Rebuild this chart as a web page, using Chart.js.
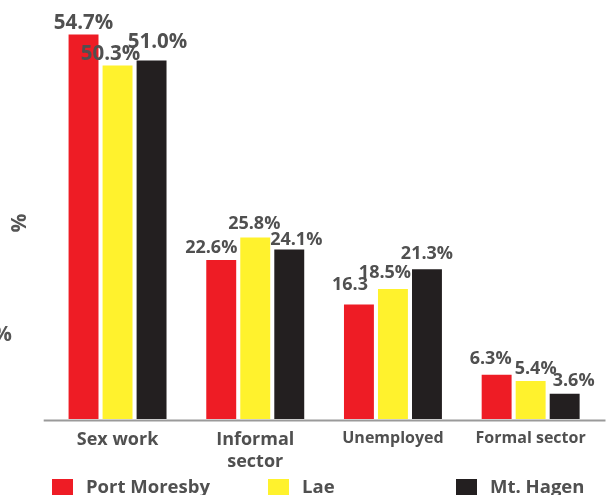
<!DOCTYPE html>
<html lang="en">
<head>
    <meta charset="UTF-8">
    <title>Occupation by town</title>
    <script src="https://cdn.jsdelivr.net/npm/chart.js"></script>
    <style>
        html, body { margin: 0; padding: 0; background: #fff; }
        canvas { display: block; }
    </style>
</head>
<body>
    <canvas id="chartOcupacao" width="611" height="495"></canvas>

    <script>
    // categorias e valores
    const categorias = ['Sex work', ['Informal', 'sector'], 'Unemployed', 'Formal sector'];
    const portMoresby = [54.7, 22.6, 16.3, 6.3];
    const lae = [50.3, 25.8, 18.5, 5.4];
    const mtHagen = [51.0, 24.1, 21.3, 3.6];

    // textos das etiquetas (o original escreve "16.3" sem %)
    const etiquetasPortMoresby = ['54.7%', '22.6%', '16.3', '6.3%'];
    const etiquetasLae = ['50.3%', '25.8%', '18.5%', '5.4%'];
    const etiquetasMtHagen = ['51.0%', '24.1%', '21.3%', '3.6%'];

    const cinza = '#505050';
    Chart.defaults.font.family = "'Open Sans', sans-serif";

    // ajuste fino das etiquetas: [dx, distancia ao topo da barra]
    const ajustes = [
        [[0, 5], [-10, 7], [-9, 14], [-6, 11]],
        [[-7, 5], [-1, 9], [-8, 11], [5, 7]],
        [[6, 12], [7, 5], [0, 10], [9, 8]]
    ];

    const etiquetas = {
        id: 'etiquetas',
        afterDatasetsDraw(chart) {
            const ctx = chart.ctx;
            ctx.save();
            ctx.fillStyle = cinza;
            ctx.textAlign = 'center';
            ctx.textBaseline = 'alphabetic';
            chart.data.datasets.forEach((ds, i) => {
                chart.getDatasetMeta(i).data.forEach((bar, j) => {
                    const [dx, gap] = ajustes[i][j];
                    ctx.font = j === 0 ? "bold 20.5px 'Open Sans'" : "bold 18px 'Open Sans'";
                    ctx.fillText(ds.etiquetas[j], bar.x + dx, bar.y - gap);
                });
            });
            ctx.restore();
        }
    };

    const extras = {
        id: 'extras',
        afterDraw(chart) {
            const ctx = chart.ctx;
            const area = chart.chartArea;
            ctx.save();
            // linha de base
            ctx.strokeStyle = '#9a9a9a';
            ctx.lineWidth = 2;
            ctx.beginPath();
            ctx.moveTo(area.left - 5, area.bottom + 1.5);
            ctx.lineTo(area.right + 6, area.bottom + 1.5);
            ctx.stroke();

            // simbolos "%" do eixo
            ctx.fillStyle = '#555';
            ctx.font = "bold 21px 'Open Sans'";
            ctx.textAlign = 'center';
            ctx.textBaseline = 'middle';
            ctx.save();
            ctx.translate(20.5, 223);
            ctx.rotate(-Math.PI / 2);
            ctx.fillText('%', 0, 0);
            ctx.restore();
            ctx.textAlign = 'right';
            ctx.fillText('%', 12, 335);

            // legenda
            const posLegenda = [52, 268, 456];
            ctx.font = "bold 18.5px 'Open Sans'";
            ctx.textAlign = 'left';
            ctx.textBaseline = 'alphabetic';
            chart.data.datasets.forEach((ds, i) => {
                ctx.fillStyle = ds.backgroundColor;
                ctx.fillRect(posLegenda[i], 479, 21, 20);
                ctx.fillStyle = cinza;
                ctx.fillText(ds.label, posLegenda[i] + 34, 493);
            });
            ctx.restore();
        }
    };

    const ctxOcupacao = document.getElementById('chartOcupacao').getContext('2d');
    new Chart(ctxOcupacao, {
        type: 'bar',
        data: {
            labels: categorias,
            datasets: [
                { label: 'Port Moresby', data: portMoresby, etiquetas: etiquetasPortMoresby, backgroundColor: '#ee1c25' },
                { label: 'Lae', data: lae, etiquetas: etiquetasLae, backgroundColor: '#fff22d' },
                { label: 'Mt. Hagen', data: mtHagen, etiquetas: etiquetasMtHagen, backgroundColor: '#231f20' }
            ]
        },
        options: {
            responsive: false,
            animation: false,
            devicePixelRatio: 1,
            barPercentage: 0.88,
            categoryPercentage: 0.741,
            layout: { padding: { left: 48.7, right: 11.5, top: 0, bottom: 0 } },
            plugins: {
                legend: { display: false },
                tooltip: { enabled: false }
            },
            scales: {
                x: {
                    grid: { display: false, drawTicks: false },
                    border: { display: false },
                    ticks: {
                        color: cinza,
                        padding: 10,
                        maxRotation: 0,
                        autoSkip: false,
                        font: (c) => ({ weight: 'bold', size: c.index >= 2 ? 16 : 18, lineHeight: 1.2 })
                    },
                    afterFit: (scale) => { scale.height = 76; }
                },
                y: {
                    display: false,
                    min: 0,
                    max: 59.6
                }
            }
        },
        plugins: [etiquetas, extras]
    });
    </script>
</body>
</html>
